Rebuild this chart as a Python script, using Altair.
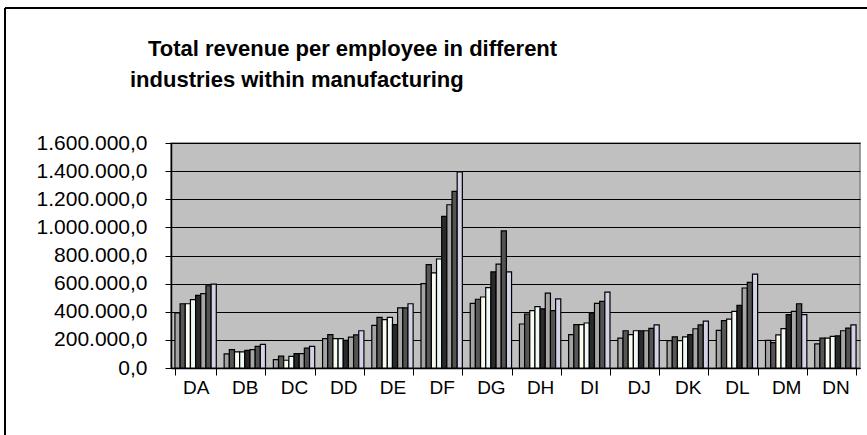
import altair as alt
import pandas as pd

categories = ["DA", "DB", "DC", "DD", "DE", "DF", "DG", "DH", "DI", "DJ", "DK", "DL", "DM", "DN"]
series_names = ["Series 1", "Series 2", "Series 3", "Series 4", "Series 5", "Series 6", "Series 7", "Series 8"]
series_colors = ["#A3A3A3", "#575757", "#FBFBF0", "#F0F8F8", "#2A2A2A", "#A6A6A6", "#535353", "#D2D2E6"]

s1 = [391000, 100000, 59000, 209000, 303000, 600000, 460000, 313000, 237000, 213000, 195000, 268000, 196000, 171000]
s2 = [457000, 130000, 85000, 237000, 360000, 735000, 489000, 384000, 308000, 265000, 222000, 337000, 180000, 213000]
s3 = [457000, 114000, 55000, 209000, 344000, 676000, 505000, 408000, 308000, 237000, 195000, 348000, 236000, 213000]
s4 = [486000, 114000, 83000, 209000, 360000, 775000, 572000, 436000, 320000, 265000, 222000, 403000, 280000, 225000]
s5 = [517000, 125000, 102000, 197000, 308000, 1078000, 684000, 420000, 391000, 265000, 237000, 446000, 379000, 228000]
s6 = [529000, 130000, 102000, 220000, 427000, 1161000, 738000, 533000, 460000, 265000, 279000, 569000, 403000, 265000]
s7 = [585000, 154000, 142000, 235000, 427000, 1256000, 975000, 408000, 474000, 282000, 306000, 609000, 457000, 284000]
s8 = [597000, 168000, 154000, 265000, 457000, 1394000, 683000, 491000, 540000, 306000, 334000, 668000, 379000, 306000]

y_ticks = [0, 200000, 400000, 600000, 800000, 1000000, 1200000, 1400000, 1600000]
title_line1 = "Total revenue per employee in different"
title_line2 = "industries within manufacturing"

rows = []
for name, vals in zip(series_names, [s1, s2, s3, s4, s5, s6, s7, s8]):
    for cat, v in zip(categories, vals):
        rows.append({"industry": cat, "series": name, "value": v})
df = pd.DataFrame(rows)

FONT = "Liberation Sans"

label_expr = ("replace(replace(replace(format(datum.value, ',.1f'), regexp(',', 'g'), '#'), '.', ','), "
              "regexp('#', 'g'), '.')")

bars = alt.Chart(df).mark_bar(stroke="black", strokeWidth=1.2).encode(
    x=alt.X("industry:N", sort=categories, title=None,
            scale=alt.Scale(paddingInner=0.16, paddingOuter=0.08),
            axis=alt.Axis(labelAngle=0, labelFont=FONT, labelFontSize=19, labelColor="black",
                          labelPadding=3, tickBand="extent", tickSize=7, tickColor="black",
                          domainColor="black", domainWidth=1.5, grid=False)),
    xOffset=alt.XOffset("series:N", sort=series_names,
                        scale=alt.Scale(paddingInner=0, paddingOuter=0)),
    y=alt.Y("value:Q", title=None,
            scale=alt.Scale(domain=[0, 1600000], nice=False),
            axis=alt.Axis(values=y_ticks, labelExpr=label_expr, labelFont=FONT, labelFontSize=21,
                          labelColor="black", labelPadding=18, tickSize=6, tickColor="black",
                          domainColor="black", domainWidth=1.5, gridColor="black", gridWidth=1,
                          gridOpacity=1)),
    color=alt.Color("series:N", sort=series_names,
                    scale=alt.Scale(domain=series_names, range=series_colors), legend=None),
)

one = alt.Data(values=[{"k": 1}])

t1 = alt.Chart(one).mark_text(text=title_line1, font=FONT, fontSize=22, fontWeight="bold",
                              align="left", baseline="alphabetic", color="black").encode(
    x=alt.value(148 - 171), y=alt.value(56 - 143))
t2 = alt.Chart(one).mark_text(text=title_line2, font=FONT, fontSize=22, fontWeight="bold",
                              align="left", baseline="alphabetic", color="black").encode(
    x=alt.value(130 - 171), y=alt.value(87 - 143))

frame_top = alt.Chart(one).mark_rule(color="black", strokeWidth=2).encode(
    x=alt.value(5 - 171), x2=alt.value(880 - 171), y=alt.value(8 - 143))
frame_left = alt.Chart(one).mark_rule(color="black", strokeWidth=2).encode(
    x=alt.value(5 - 171), y=alt.value(8 - 143), y2=alt.value(450 - 143))

chart = alt.layer(bars, t1, t2, frame_top, frame_left).properties(
    width=689, height=225,
    autosize=alt.AutoSizeParams(type="none"),
    padding={"left": 171, "top": 143, "right": 7, "bottom": 67},
    background="white",
).configure_view(fill="#C0C0C0", stroke="#808080", strokeWidth=1.5)

chart.save("out.html", embed_options={"renderer": "svg", "actions": False})
